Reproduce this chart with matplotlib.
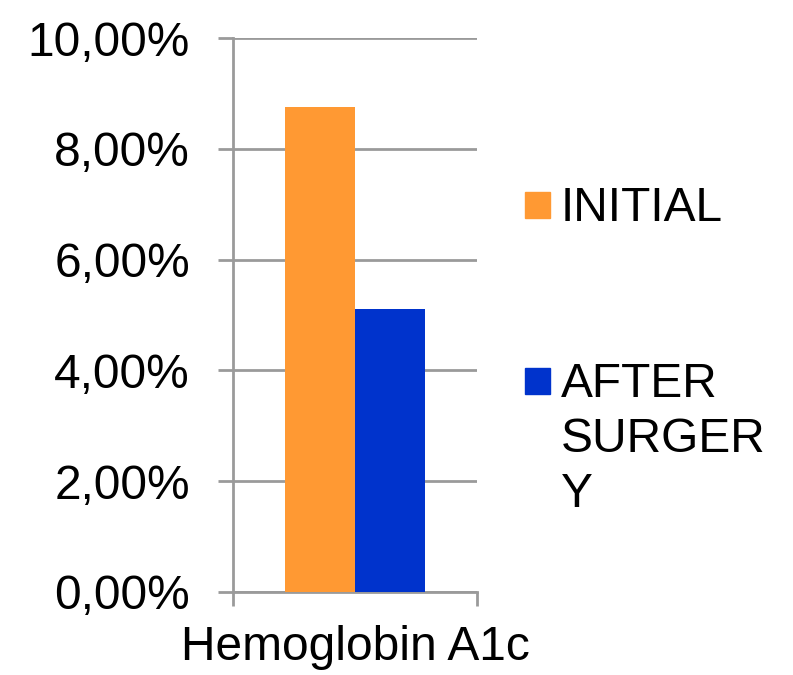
import matplotlib
matplotlib.use("Agg")
import matplotlib.pyplot as plt
from matplotlib.patches import Rectangle
from matplotlib.ticker import FuncFormatter

plt.rcParams["font.family"] = ["Liberation Sans", "DejaVu Sans"]

categories = ["Hemoglobin A1c"]
series_names = ["INITIAL", "AFTER\nSURGER\nY"]
series_values = [[8.75], [5.1]]
series_colors = ["#FF9933", "#0033CC"]
y_ticks = [0, 2, 4, 6, 8, 10]

GRID = "#9a9a9a"
FS = 34.5

fig = plt.figure(figsize=(7.93, 6.75), dpi=100)
ax = fig.add_axes([0.2938, 0.1230, 0.3077, 0.8207])

bar_w = 0.287
offsets = [-bar_w / 2, bar_w / 2]
for vals, off, col in zip(series_values, offsets, series_colors):
    ax.bar([i + off for i in range(len(categories))], vals, width=bar_w,
           color=col, zorder=3)

ax.set_xlim(-0.5, 0.5)
ax.set_ylim(0, 10)
ax.set_yticks(y_ticks)
ax.yaxis.set_major_formatter(FuncFormatter(lambda v, _: f"{v:.2f}%".replace(".", ",")))
ax.yaxis.grid(True, color=GRID, linewidth=2, zorder=0)
ax.tick_params(axis="y", length=11, width=2, color=GRID, pad=20, labelsize=FS)

ax.set_xticks([0])
ax.set_xticklabels(categories)
ax.set_xticks([-0.5, 0.5], minor=True)
ax.tick_params(axis="x", which="major", length=0, pad=24, labelsize=FS)
ax.tick_params(axis="x", which="minor", length=10, width=2, color=GRID)

for s in ["top", "right"]:
    ax.spines[s].set_visible(False)
for s in ["left", "bottom"]:
    ax.spines[s].set_color(GRID)
    ax.spines[s].set_linewidth(2)

# legend drawn by hand: square sits beside the first line of each label
W, H = 793, 675
first_baseline = [221, 397]  # px from top
line_step = 55
for name, col, base in zip(series_names, series_colors, first_baseline):
    fig.patches.append(Rectangle((525 / W, (H - base + 3) / H), 25 / W, 26 / H,
                                 transform=fig.transFigure, color=col))
    for k, line in enumerate(name.split("\n")):
        fig.text(561 / W, (H - base - k * line_step) / H, line, fontsize=FS,
                 va="baseline", ha="left")

fig.savefig("out.png", dpi=100)
